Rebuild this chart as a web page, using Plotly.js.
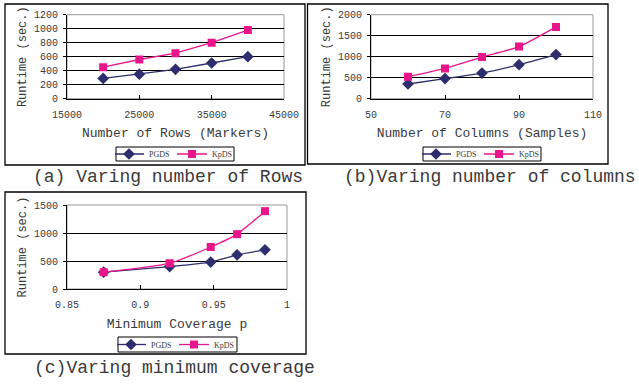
<!DOCTYPE html>
<html>
<head>
<meta charset="utf-8">
<script src="https://cdn.plot.ly/plotly-3.0.1.min.js"></script>
<style>html,body{margin:0;padding:0;background:#fff}#chart{width:639px;height:385px}</style>
</head>
<body>
<div id="chart"></div>
<script>
// Panel (a): number of rows
const rowsX = [20000, 25000, 30000, 35000, 40000];
const rowsPGDS = [290, 350, 420, 510, 600];
const rowsKpDS = [450, 560, 650, 800, 980];
// Panel (b): number of columns
const colsX = [60, 70, 80, 90, 100];
const colsPGDS = [350, 480, 610, 810, 1050];
const colsKpDS = [520, 720, 990, 1240, 1710];
// Panel (c): minimum coverage
const covX = [0.875, 0.92, 0.948, 0.966, 0.985];
const covPGDS = [300, 400, 480, 610, 700];
const covKpDS = [300, 460, 750, 980, 1390];

const seriesNames = ['PGDS', 'KpDS'];
const captions = ['(a) Varing number of Rows', '(b)Varing number of columns', '(c)Varing minimum coverage'];
const xTitles = ['Number of Rows (Markers)', 'Number of Columns (Samples)', 'Minimum Coverage p'];
const yTitle = 'Runtime (sec.)';
const covTickVals = [0.85, 0.9, 0.95, 1];
const covTickText = ['0.85', '0.9', '0.95', '1'];

const W = 639, H = 385;
const px = v => v / W;
const py = v => 1 - v / H;

const navy = '#2E2E6E';
const pink = '#E8168A';
const mono = 'Liberation Mono, Courier New, monospace';
const txt = '#3a3a3a';

function pair(x, a, b, xa, ya, lg, shape) {
  return [
    {x: x, y: a, name: seriesNames[0], type: 'scatter', mode: 'lines+markers',
     xaxis: xa, yaxis: ya, legend: lg,
     line: {color: navy, width: 1.3, shape: shape, smoothing: 0.6},
     marker: {symbol: 'diamond', size: 9, color: navy}},
    {x: x, y: b, name: seriesNames[1], type: 'scatter', mode: 'lines+markers',
     xaxis: xa, yaxis: ya, legend: lg,
     line: {color: pink, width: 1.3, shape: shape, smoothing: 0.6},
     marker: {symbol: 'square', size: 8, color: pink}}
  ];
}

const data = [].concat(
  pair(rowsX, rowsPGDS, rowsKpDS, 'x', 'y', 'legend', 'linear'),
  pair(colsX, colsPGDS, colsKpDS, 'x2', 'y2', 'legend2', 'spline'),
  pair(covX, covPGDS, covKpDS, 'x3', 'y3', 'legend3', 'spline')
);

function xax(anchor, domain, range, dtick, title, tvals, ttext) {
  const o = {
    anchor: anchor,
    domain: domain, range: range, dtick: dtick, tick0: range[0], tickformat: 'd',
    showgrid: false, zeroline: false, showline: true, linecolor: '#000', linewidth: 1,
    ticks: 'inside', ticklen: 4, tickcolor: '#000', ticklabelstandoff: 6,
    tickfont: {family: mono, size: 10, color: txt},
    title: {text: title, font: {family: mono, size: 13, color: txt}, standoff: 8},
    fixedrange: true
  };
  if (tvals) { o.tickmode = 'array'; o.tickvals = tvals; o.ticktext = ttext; delete o.tickformat; }
  return o;
}
function yax(anchor, domain, range, dtick) {
  return {
    anchor: anchor,
    domain: domain, range: range, dtick: dtick, tick0: 0, tickformat: 'd',
    showgrid: true, gridcolor: '#000', gridwidth: 1, zeroline: false,
    showline: true, linecolor: '#000', linewidth: 1,
    ticks: 'outside', ticklen: 3, tickcolor: '#000', ticklabelstandoff: 3,
    tickfont: {family: mono, size: 10, color: txt},
    title: {text: yTitle, font: {family: mono, size: 12, color: txt}, standoff: 4},
    fixedrange: true
  };
}

function legendAt(x0, yc) {
  return {
    x: px(x0), y: py(yc), xanchor: 'left', yanchor: 'middle', orientation: 'h',
    bgcolor: 'rgba(0,0,0,0)', borderwidth: 0,
    font: {family: 'Liberation Serif, Times New Roman, serif', size: 8, color: txt},
    itemwidth: 30, tracegroupgap: 0, entrywidth: 24, entrywidthmode: 'pixels',
    indentation: -6, itemclick: false, itemdoubleclick: false
  };
}

function rectPx(x0, y0, x1, y1, color, width) {
  return {type: 'rect', xref: 'paper', yref: 'paper', x0: px(x0), x1: px(x1), y0: py(y1), y1: py(y0),
          line: {color: color, width: width}, fillcolor: 'rgba(0,0,0,0)', layer: 'below'};
}
function plotBorder(xa, ya) {
  return {type: 'rect', xref: xa + ' domain', yref: ya + ' domain', x0: 0, x1: 1, y0: 0, y1: 1,
          line: {color: '#999', width: 1}, fillcolor: 'rgba(0,0,0,0)', layer: 'below'};
}
function caption(text, x, y) {
  return {text: text, x: px(x), y: py(y), xref: 'paper', yref: 'paper', showarrow: false,
          xanchor: 'center', yanchor: 'middle', font: {family: mono, size: 18, color: txt}};
}

const layout = {
  width: W, height: H,
  margin: {l: 0, r: 0, t: 0, b: 0},
  paper_bgcolor: '#fff', plot_bgcolor: '#fff',
  showlegend: true,
  xaxis: xax('y', [px(67), px(284)], [15000, 45000], 10000, xTitles[0]),
  yaxis: yax('x', [py(98.7), py(14.7)], [0, 1200], 200),
  xaxis2: xax('y2', [px(371), px(593)], [50, 110], 20, xTitles[1]),
  yaxis2: yax('x2', [py(98.7), py(14.7)], [0, 2000], 500),
  xaxis3: xax('y3', [px(67), px(287)], [0.85, 1], 0.05, xTitles[2], covTickVals, covTickText),
  yaxis3: yax('x3', [py(289), py(205)], [0, 1500], 500),
  legend: legendAt(115, 154),
  legend2: legendAt(422, 154),
  legend3: legendAt(117, 344.5),
  shapes: [
    rectPx(5, 4, 305, 165, '#000', 1.3),
    rectPx(307.5, 4, 608, 164, '#000', 1.3),
    rectPx(5, 192, 306, 354, '#000', 1.3),
    rectPx(116, 147, 234, 161, '#000', 1),
    rectPx(423, 147, 541, 161, '#000', 1),
    rectPx(118, 337, 237, 352, '#000', 1),
    plotBorder('x', 'y'), plotBorder('x2', 'y2'), plotBorder('x3', 'y3')
  ],
  annotations: [
    caption(captions[0], 168, 177),
    caption(captions[1], 490, 177),
    caption(captions[2], 174, 368)
  ]
};

Plotly.newPlot('chart', data, layout, {displayModeBar: false, staticPlot: true});
</script>
</body>
</html>
